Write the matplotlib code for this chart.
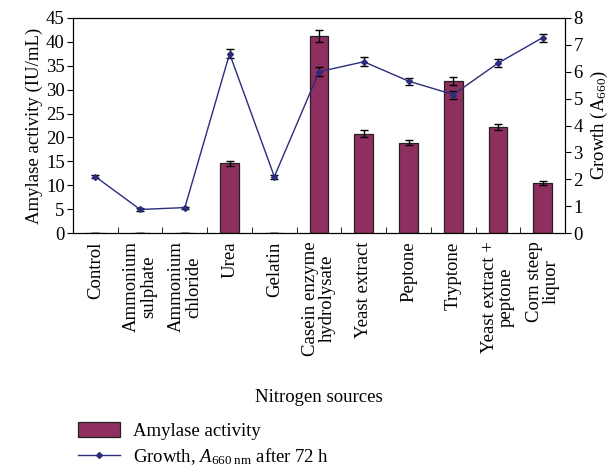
import numpy as np
import matplotlib.pyplot as plt
from matplotlib.ticker import FixedLocator
from matplotlib.lines import Line2D

plt.rcParams['font.family'] = ['Liberation Serif', 'DejaVu Serif']
plt.rcParams['mathtext.fontset'] = 'custom'
plt.rcParams['mathtext.rm'] = 'Liberation Serif'
plt.rcParams['mathtext.it'] = 'Liberation Serif:italic'

# data
sources = ['Control', 'Ammonium\nsulphate', 'Ammonium\nchloride', 'Urea', 'Gelatin',
           'Casein enzyme\nhydrolysate', 'Yeast extract', 'Peptone', 'Tryptone',
           'Yeast extract +\npeptone', 'Corn steep\nliquor']
amylase = [0, 0, 0, 14.6, 0, 41.2, 20.8, 18.9, 31.8, 22.2, 10.4]
amylase_err = [0, 0, 0, 0.5, 0, 1.2, 0.7, 0.5, 0.9, 0.6, 0.4]
growth = [2.10, 0.88, 0.95, 6.67, 2.10, 6.00, 6.37, 5.65, 5.15, 6.32, 7.27]
growth_err = [0.05, 0.04, 0.04, 0.17, 0.07, 0.17, 0.16, 0.13, 0.15, 0.16, 0.15]

bar_col = '#8E2F5F'
line_col = '#2B2C7C'
fs = 13.5

fig = plt.figure(figsize=(6.16, 4.71), dpi=100)
ax = fig.add_axes([0.1185, 0.505, 0.799, 0.457])
x = np.arange(len(sources))

b = ax.bar(x, amylase, width=0.42, color=bar_col, edgecolor='#222222', linewidth=0.9,
           zorder=2)
ax.errorbar(x, amylase, yerr=amylase_err, fmt='none', ecolor='black', elinewidth=1,
            capsize=3, capthick=1, zorder=3)
ax.set_ylim(0, 45)
ax.set_yticks(range(0, 46, 5))
ax.set_xlim(-0.5, len(sources) - 0.5)
ax.set_xticks(x)
ax.set_xticklabels(sources, rotation=90, fontsize=fs, linespacing=1.0)
ax.xaxis.set_minor_locator(FixedLocator(np.arange(0.5, len(sources) - 0.5, 1)))
ax.tick_params(axis='x', which='major', length=0, pad=6)
ax.tick_params(axis='x', which='minor', direction='in', length=4)
ax.tick_params(axis='y', labelsize=fs, direction='out', length=4, pad=2)
ax.set_ylabel('Amylase activity (IU/mL)', fontsize=fs, labelpad=2)
ax.set_xlabel('Nitrogen sources', fontsize=fs, labelpad=24)

ax2 = ax.twinx()
ax2.errorbar(x, growth, yerr=growth_err, color=line_col, linewidth=1,
             marker='D', markersize=3, ecolor='black', elinewidth=1, capsize=3,
             capthick=1, zorder=4)
ax2.set_ylim(0, 8)
ax2.set_yticks(range(0, 9))
ax2.tick_params(axis='y', labelsize=fs, direction='out', length=4, pad=2)
ax2.set_ylabel('Growth (A$_{660}$)', fontsize=fs, labelpad=4)

ln = Line2D([], [], color=line_col, linewidth=1, marker='D', markersize=3)
fig.legend([b, ln], ['Amylase activity', 'Growth, $A_{660\\ \\mathrm{nm}}$ after 72 h'],
           loc='lower left', bbox_to_anchor=(0.1, -0.028), frameon=False,
           fontsize=fs, handlelength=2.2, handleheight=0.9, labelspacing=0.35,
           handletextpad=0.7)

fig.savefig('out.png', dpi=100)
